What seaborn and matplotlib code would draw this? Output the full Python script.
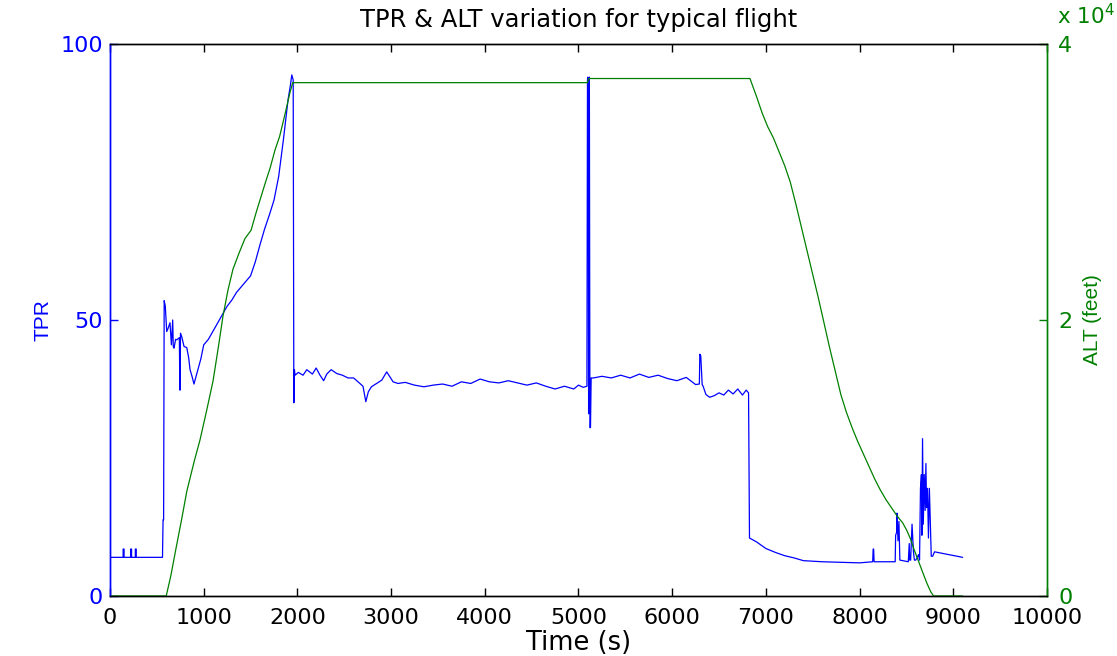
import matplotlib
matplotlib.use("Agg")
import matplotlib.pyplot as plt
import matplotlib.transforms as mtransforms
import seaborn as sns
import pandas as pd

# ---------------- data (TPR) ----------------
tpr_t_ground = [0, 140, 140, 150, 150, 220, 220, 230, 230, 270, 270, 280, 280, 560]
tpr_v_ground = [7, 7, 8.5, 8.5, 7, 7, 8.5, 8.5, 7, 7, 8.5, 8.5, 7, 7]

tpr_t_takeoff = [566, 572, 578, 590, 605, 620, 640, 655, 669, 675, 683, 700,
                 712, 740, 745, 748, 752, 765, 790, 819, 840, 854, 875, 896]
tpr_v_takeoff = [13.8, 13.8, 53.5, 52.5, 47.9, 48.5, 49.5, 45.5, 50.0, 45.2, 44.9, 46.5,
                 46.4, 46.8, 37.3, 37.3, 47.6, 47.0, 45.2, 45.0, 43.1, 41.0, 39.8, 38.4]

tpr_t_climb = [930, 970, 1000, 1050, 1100, 1150, 1200, 1250, 1300, 1350, 1400, 1450,
               1500, 1550, 1600, 1650, 1700, 1750, 1800, 1850, 1900, 1925, 1940, 1955]
tpr_v_climb = [40.5, 43.0, 45.5, 46.5, 48.0, 49.5, 51.0, 52.5, 53.6, 55.0, 56.0, 57.0,
               58.0, 60.5, 63.6, 66.5, 69.0, 71.7, 76.0, 82.6, 89.9, 92.5, 94.4, 93.5]

tpr_t_cruise1 = [1962, 1968, 1975, 2010, 2060, 2100, 2160, 2200, 2241, 2280, 2313, 2360,
                 2420, 2480, 2540, 2600, 2633, 2700, 2730, 2757, 2790, 2846, 2900, 2953,
                 3021, 3074, 3150, 3250, 3350, 3450, 3550, 3650, 3750, 3850, 3950, 4050,
                 4150, 4250, 4350, 4450, 4550, 4650, 4750, 4850, 4950, 5000, 5050, 5090]
tpr_v_cruise1 = [35.0, 41.0, 40.0, 40.5, 40.0, 41.0, 40.2, 41.3, 40.0, 39.0, 40.2, 41.0,
                 40.3, 40.0, 39.5, 39.5, 39.0, 38.0, 35.2, 37.0, 37.9, 38.5, 39.1, 40.6,
                 38.8, 38.5, 38.7, 38.2, 37.9, 38.2, 38.4, 38.0, 38.8, 38.5, 39.3, 38.8,
                 38.6, 39.0, 38.6, 38.2, 38.6, 38.0, 37.5, 38.0, 37.5, 38.2, 37.8, 38.0]

tpr_t_spike = [5096, 5100, 5104, 5108, 5112, 5116, 5122, 5128, 5135]
tpr_v_spike = [93.5, 94.0, 93.0, 33.0, 93.0, 94.0, 30.5, 30.5, 39.5]

tpr_t_cruise2 = [5160, 5250, 5350, 5450, 5550, 5650, 5750, 5850, 5950, 6050, 6150, 6250,
                 6290, 6295, 6305, 6320, 6330, 6360, 6400, 6450, 6500, 6550, 6600, 6650,
                 6700, 6750, 6790, 6815]
tpr_v_cruise2 = [39.5, 39.8, 39.5, 40.0, 39.5, 40.2, 39.6, 40.0, 39.4, 39.0, 39.6, 38.3,
                 38.4, 43.8, 43.5, 38.3, 38.0, 36.5, 36.0, 36.3, 36.8, 36.4, 37.3, 36.6,
                 37.5, 36.4, 37.3, 36.8]

tpr_t_landing = [6825, 6900, 7000, 7100, 7200, 7300, 7400, 7600, 7800, 8000, 8140, 8145,
                 8150, 8155, 8380, 8385, 8395, 8400, 8410, 8420, 8430, 8520, 8530, 8535,
                 8545, 8560, 8575, 8585, 8600, 8630, 8640, 8650, 8660, 8665, 8672, 8680,
                 8690, 8700, 8708, 8715, 8725, 8735, 8745, 8755, 8765, 8780, 8800, 9100]
tpr_v_landing = [10.5, 9.8, 8.6, 7.9, 7.3, 6.9, 6.4, 6.2, 6.1, 6.0, 6.2, 8.5,
                 8.5, 6.2, 6.2, 11.0, 11.5, 15.0, 10.0, 13.5, 6.5, 6.2, 9.5, 6.5,
                 6.5, 13.0, 8.0, 6.5, 6.5, 7.5, 6.5, 19.5, 22.0, 11.0, 28.5, 13.0,
                 22.0, 15.5, 24.0, 16.0, 19.5, 10.5, 19.5, 13.0, 7.2, 7.2, 8.0, 7.0]

# ---------------- data (ALT in feet) ----------------
alt_t_climb = [0, 600, 650, 700, 760, 820, 900, 960, 1030, 1100, 1160, 1206, 1260,
               1313, 1380, 1440, 1505, 1560, 1610, 1660, 1708, 1760, 1810, 1860, 1921, 1950]
alt_v_climb = [0, 0, 1500, 3300, 5400, 7600, 9800, 11300, 13400, 15600, 18200, 20300, 22200,
               23700, 24900, 25900, 26500, 27800, 28900, 30000, 31000, 32300, 33300, 34700,
               36500, 37200]

alt_t_cruise = [5095, 5110, 6830]
alt_v_cruise = [37200, 37500, 37500]

alt_t_descent = [6900, 6960, 7020, 7080, 7140, 7200, 7260, 7320, 7380, 7440, 7500, 7560,
                 7620, 7680, 7740, 7800, 7860, 7920, 7980, 8040, 8100, 8160, 8220, 8280,
                 8340, 8400, 8460, 8500, 8540, 8580, 8630, 8680, 8720, 8760, 8790, 9100]
alt_v_descent = [36200, 35000, 34000, 33200, 32200, 31200, 30000, 28400, 26700, 25000,
                 23300, 21600, 19800, 18000, 16300, 14600, 13300, 12200, 11200, 10300,
                 9400, 8500, 7700, 7000, 6400, 5800, 5300, 4800, 4200, 3400, 2500, 1600,
                 900, 300, 0, 0]

x_ticks = [0, 1000, 2000, 3000, 4000, 5000, 6000, 7000, 8000, 9000, 10000]
tpr_ticks = [0, 50, 100]
alt_ticks = [0, 20000, 40000]
alt_tick_labels = ["0", "2", "4"]

tpr_df = pd.DataFrame({
    "t": tpr_t_ground + tpr_t_takeoff + tpr_t_climb + tpr_t_cruise1 + tpr_t_spike
         + tpr_t_cruise2 + tpr_t_landing,
    "v": tpr_v_ground + tpr_v_takeoff + tpr_v_climb + tpr_v_cruise1 + tpr_v_spike
         + tpr_v_cruise2 + tpr_v_landing,
})
alt_df = pd.DataFrame({
    "t": alt_t_climb + alt_t_cruise + alt_t_descent,
    "v": alt_v_climb + alt_v_cruise + alt_v_descent,
})

# ---------------- plot ----------------
sns.set_style("white")
plt.rcParams["font.family"] = ["DejaVu Sans"]
plt.rcParams["text.color"] = "black"
plt.rcParams["axes.labelcolor"] = "black"
plt.rcParams["xtick.color"] = "black"
plt.rcParams["ytick.color"] = "black"

blue = "#0000FF"
green = "#008000"
tick_fs = 16

fig = plt.figure(figsize=(11.17, 6.56), dpi=100)
ax = fig.add_axes([0.0985, 0.0915, 0.8388, 0.8414])
ax2 = ax.twinx()

sns.lineplot(data=tpr_df, x="t", y="v", ax=ax, color=blue, lw=0.9,
             sort=False, estimator=None)
sns.lineplot(data=alt_df, x="t", y="v", ax=ax2, color=green, lw=0.9,
             sort=False, estimator=None)

ax.set_xlim(0, 10000)
ax.set_ylim(0, 100)
ax2.set_ylim(0, 40000)
ax.set_xticks(x_ticks)
ax.set_xticklabels([str(v) for v in x_ticks], fontsize=tick_fs, color="black")
ax.set_yticks(tpr_ticks)
ax.set_yticklabels([str(v) for v in tpr_ticks], fontsize=tick_fs, color=blue)
ax2.set_yticks(alt_ticks)
ax2.set_yticklabels(alt_tick_labels, fontsize=tick_fs, color=green)

ax.tick_params(axis="x", direction="in", length=6, width=1, top=True, bottom=True,
               colors="black", pad=9)
ax.tick_params(axis="y", direction="in", length=6, width=1, colors=blue, pad=5)
ax2.tick_params(axis="y", direction="in", length=6, width=1, colors=green, pad=8)

for a in (ax, ax2):
    a.spines["top"].set_color("black")
    a.spines["bottom"].set_color("black")
    a.spines["left"].set_color(blue)
    a.spines["right"].set_color(green)
    for s in a.spines.values():
        s.set_linewidth(1.0)
        s.set_visible(True)

ax.set_xlabel("Time (s)", fontsize=18.5, labelpad=1, color="black")
ax.set_ylabel("TPR", fontsize=15, color=blue, labelpad=6,
              family=["Liberation Sans", "DejaVu Sans"])
ax2.set_ylabel("ALT (feet)", fontsize=15, color=green, labelpad=8,
               family=["Liberation Sans", "DejaVu Sans"])
ax.set_title("TPR & ALT variation for typical flight", fontsize=17.5, pad=12,
             color="black")

off = mtransforms.offset_copy(ax2.transAxes, fig=fig, x=10, y=16, units="dots")
ax2.text(1.0, 1.0, r"x 10$^{4}$", transform=off, color=green,
         fontsize=15.5, ha="left", va="bottom")

fig.savefig("out.png", dpi=100)
